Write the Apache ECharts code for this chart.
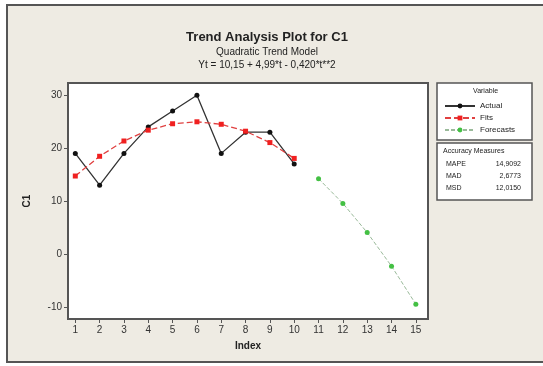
<!DOCTYPE html>
<html>
<head>
<meta charset="utf-8">
<script src="https://cdn.jsdelivr.net/npm/echarts@6/dist/echarts.min.js"></script>
<style>
  html, body { margin: 0; padding: 0; background: #fff; }
  #content { width: 543px; height: 366px; }
</style>
</head>
<body>
<div id="content"></div>
<script>
// 数据
var indexTicks = [1, 2, 3, 4, 5, 6, 7, 8, 9, 10, 11, 12, 13, 14, 15];
var yTicks = [-10, 0, 10, 20, 30];
var actualIdx = [1, 2, 3, 4, 5, 6, 7, 8, 9, 10];
var actualVals = [19, 13, 19, 24, 27, 30, 19, 23, 23, 17];
var fitsVals = [14.72, 18.45, 21.34, 23.39, 24.60, 24.97, 24.50, 23.19, 21.04, 18.05];
var forecastIdx = [11, 12, 13, 14, 15];
var forecastVals = [14.22, 9.55, 4.04, -2.31, -9.50];
var measureNames = ["MAPE", "MAD", "MSD"];
var measureVals = ["14,9092", "2,6773", "12,0150"];

function pairs(xs, ys) {
    var out = [];
    for (var i = 0; i < xs.length; i++) out.push([xs[i], ys[i]]);
    return out;
}

var font = "Liberation Sans";
var myChart = echarts.init(document.getElementById("content"));

// 右侧的精度框
var measureGraphics = [];
for (var i = 0; i < measureNames.length; i++) {
    measureGraphics.push({
        type: "text", left: 446, top: 161 + i * 12, z: 2,
        style: { text: measureNames[i], font: "7px " + font, fill: "#222" }
    });
    measureGraphics.push({
        type: "text", right: 22, top: 161 + i * 12, z: 2,
        style: { text: measureVals[i], font: "7px " + font, fill: "#222", textAlign: "right" }
    });
}

myChart.setOption({
    backgroundColor: "#ffffff",
    animation: false,
    title: {
        text: "Trend Analysis Plot for C1",
        subtext: "Quadratic Trend Model\nYt = 10,15 + 4,99*t - 0,420*t**2",
        left: 262, top: 26, textAlign: "center", itemGap: 2,
        textStyle: { fontFamily: font, fontSize: 13, fontWeight: "bold", color: "#222" },
        subtextStyle: { fontFamily: font, fontSize: 10, color: "#222", lineHeight: 13 }
    },
    legend: {
        orient: "vertical",
        left: 439, top: 97,
        itemWidth: 30, itemHeight: 6, itemGap: 4,
        textStyle: { fontFamily: font, fontSize: 8, color: "#222" },
        data: ["Actual", "Fits", "Forecasts"]
    },
    grid: {
        left: 68, right: 115, top: 83, bottom: 47,
        show: true, backgroundColor: "#ffffff", borderColor: "#555", borderWidth: 2
    },
    xAxis: {
        type: "value", min: 0.7, max: 15.5,
        name: "Index", nameLocation: "middle", nameGap: 22,
        nameTextStyle: { fontFamily: font, fontSize: 10, fontWeight: "bold", color: "#222" },
        axisLine: { show: true, onZero: false, lineStyle: { color: "#555", width: 2 } },
        axisTick: { show: true, length: 4, customValues: indexTicks, lineStyle: { color: "#555" } },
        axisLabel: { customValues: indexTicks, fontFamily: font, fontSize: 10, color: "#333", margin: 6 },
        splitLine: { show: false }
    },
    yAxis: {
        type: "value", min: -12.3, max: 32.3,
        name: "C1", nameLocation: "middle", nameGap: 36, nameRotate: 90,
        nameTextStyle: { fontFamily: font, fontSize: 10, fontWeight: "bold", color: "#222" },
        axisLine: { show: true, onZero: false, lineStyle: { color: "#555", width: 2 } },
        axisTick: { show: true, length: 4, customValues: yTicks, lineStyle: { color: "#555" } },
        axisLabel: { customValues: yTicks, fontFamily: font, fontSize: 10, color: "#333", margin: 6 },
        splitLine: { show: false }
    },
    graphic: [
        // 外框背景
        { type: "rect", z: -10, shape: { x: 7, y: 5, width: 540, height: 357 },
          style: { fill: "#eeebe3", stroke: "#555", lineWidth: 2 } },
        // Variable 框
        { type: "rect", z: 1, shape: { x: 437, y: 83, width: 95, height: 57 },
          style: { fill: "#fff", stroke: "#555", lineWidth: 1.5 } },
        { type: "text", z: 2, left: 473, top: 88,
          style: { text: "Variable", font: "7px " + font, fill: "#222" } },
        // Accuracy Measures 框
        { type: "rect", z: 1, shape: { x: 437, y: 143, width: 95, height: 57 },
          style: { fill: "#fff", stroke: "#555", lineWidth: 1.5 } },
        { type: "text", z: 2, left: 443, top: 148,
          style: { text: "Accuracy Measures", font: "7px " + font, fill: "#222" } }
    ].concat(measureGraphics),
    series: [
        {
            name: "Actual", type: "line", data: pairs(actualIdx, actualVals),
            symbol: "circle", symbolSize: 5, z: 3,
            itemStyle: { color: "#111" },
            lineStyle: { color: "#333", width: 1.3 }
        },
        {
            name: "Fits", type: "line", data: pairs(actualIdx, fitsVals),
            symbol: "rect", symbolSize: 5, z: 4,
            itemStyle: { color: "#f02020" },
            lineStyle: { color: "#e04040", width: 1.3, type: [6, 3] }
        },
        {
            name: "Forecasts", type: "line", data: pairs(forecastIdx, forecastVals),
            symbol: "circle", symbolSize: 5, z: 3,
            itemStyle: { color: "#44c044" },
            lineStyle: { color: "#9aba9a", width: 1, type: [4, 2] }
        }
    ]
});
</script>
</body>
</html>
